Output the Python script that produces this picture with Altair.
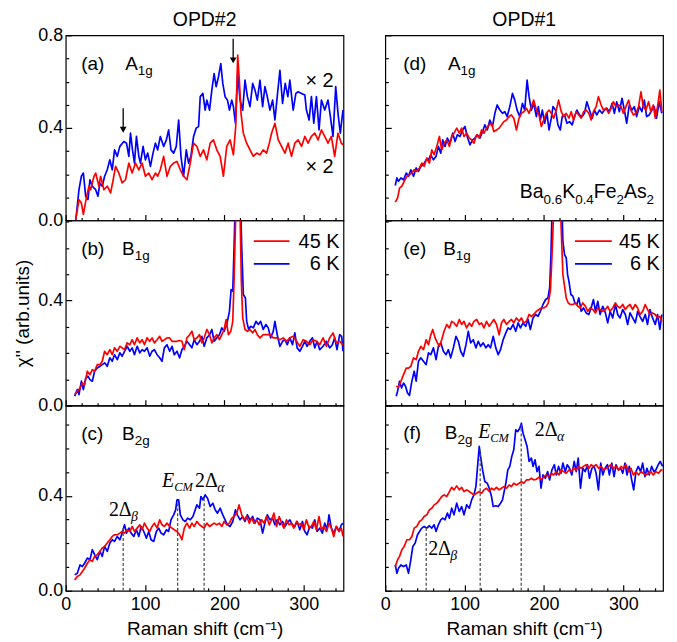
import altair as alt
import pandas as pd

RED = "#ff0000"
BLUE = "#0000ff"
SANS = "Liberation Sans"
SERIF = "Liberation Serif"

# ---------------- data ----------------
# (a) OPD#2, A1g  (values shown x2)
a45_x = [12.6,16.7,19.7,22.2,26.4,29.3,31.4,35.6,37.7,41.8,
         43.9,48.1,52.3,56.5,59.8,62.8,66.9,71.1,75.3,79.5,
         83.7,87.9,92.1,96.2,100.4,104.6,108.8,113.0,115.9,119.2,
         123.4,127.6,131.8,136.0,140.2,144.4,148.5,152.7,156.9,161.1,
         165.3,169.5,173.6,177.8,182.0,186.2,190.4,194.6,198.7,202.9,
         207.1,211.3,214.2,216.7,218.8,220.9,223.8,228.0,232.2,236.4,
         240.6,244.8,248.9,253.1,256.5,259.4,263.6,267.8,272.0,276.2,
         280.3,284.5,288.7,292.9,297.1,301.3,305.4,309.6,313.8,318.0,
         322.2,326.4,330.5,334.7,338.9,343.1,347.3,349.4]
a45_y = [0.004,0.090,0.076,0.026,0.105,0.148,0.133,0.191,0.205,0.148,
         0.191,0.133,0.148,0.119,0.176,0.234,0.205,0.162,0.176,0.248,
         0.205,0.248,0.219,0.248,0.191,0.205,0.176,0.205,0.191,0.219,
         0.277,0.191,0.234,0.248,0.255,0.219,0.191,0.176,0.248,0.334,
         0.320,0.277,0.305,0.262,0.334,0.348,0.305,0.277,0.191,0.320,
         0.348,0.284,0.406,0.714,0.606,0.463,0.377,0.334,0.305,0.277,
         0.291,0.284,0.305,0.291,0.334,0.377,0.420,0.348,0.320,0.291,
         0.334,0.277,0.334,0.348,0.320,0.363,0.334,0.363,0.377,0.348,
         0.391,0.363,0.334,0.363,0.277,0.377,0.334,0.327]
a6_x = [12.6,16.7,19.7,22.2,25.1,28.0,30.5,33.5,37.7,40.6,
        43.1,46.0,49.0,52.3,55.6,58.6,61.5,64.9,68.2,73.2,
        76.6,79.5,81.6,84.1,86.6,89.1,92.1,94.1,97.5,100.4,
        103.3,106.7,110.0,113.0,115.9,119.2,123.4,126.8,129.7,132.6,
        136.0,139.3,142.3,145.2,148.5,151.9,154.8,157.7,161.1,164.4,
        167.4,169.5,172.8,175.7,177.8,181.2,184.1,187.0,189.5,192.5,
        195.4,197.9,200.8,203.8,206.3,209.2,211.3,213.8,216.7,219.7,
        223.0,225.9,228.9,232.2,235.6,238.5,241.4,244.8,248.1,251.0,
        254.0,257.3,260.7,263.6,266.5,269.9,273.2,276.6,279.9,282.4,
        286.6,290.0,292.9,297.1,301.3,303.3,306.7,309.6,312.6,315.9,
        319.2,322.2,326.4,330.5,333.5,336.8,340.2,343.1,346.0,349.4]
a6_y = [0.000,0.133,0.191,0.205,0.105,0.090,0.176,0.148,0.133,0.105,
        0.162,0.148,0.191,0.219,0.262,0.219,0.305,0.277,0.320,0.341,
        0.334,0.277,0.377,0.305,0.248,0.363,0.277,0.248,0.320,0.262,
        0.291,0.234,0.291,0.334,0.305,0.363,0.320,0.348,0.391,0.305,
        0.291,0.320,0.434,0.277,0.191,0.305,0.248,0.277,0.363,0.399,
        0.406,0.535,0.549,0.477,0.520,0.477,0.563,0.635,0.578,0.621,
        0.678,0.592,0.535,0.520,0.477,0.520,0.492,0.420,0.635,0.520,
        0.477,0.606,0.535,0.492,0.592,0.563,0.520,0.606,0.492,0.578,
        0.535,0.477,0.520,0.434,0.535,0.649,0.506,0.592,0.535,0.606,
        0.477,0.549,0.556,0.549,0.542,0.477,0.434,0.535,0.420,0.535,
        0.391,0.520,0.477,0.520,0.449,0.363,0.578,0.463,0.377,0.477]

# (b) OPD#2, B1g
b45_x = [11.3,14.6,18.0,20.9,23.8,27.2,30.5,33.5,36.4,39.7,
         43.1,46.0,49.0,52.3,55.6,58.6,61.5,64.9,68.2,71.1,
         74.1,77.4,80.8,83.7,86.6,90.0,93.3,96.2,99.2,102.5,
         105.9,108.8,111.7,115.1,118.4,121.3,124.3,127.6,131.0,133.9,
         136.8,140.2,143.5,146.4,149.4,152.7,156.1,159.0,161.9,165.3,
         168.6,171.5,174.5,177.8,181.2,184.1,187.0,190.4,193.7,196.7,
         199.6,202.1,205.0,208.0,210.5,212.1,213.8,215.5,217.6,219.7,
         221.3,223.0,225.9,228.9,232.2,235.6,238.5,241.4,244.8,248.9,
         253.1,257.3,261.5,265.7,269.9,274.1,278.2,282.4,286.6,290.8,
         295.0,299.2,303.3,307.5,311.7,315.9,320.1,324.3,328.5,332.6,
         336.8,341.0,345.2,349.4]
b45_y = [0.042,0.055,0.067,0.086,0.080,0.131,0.118,0.137,0.131,0.156,
         0.156,0.169,0.207,0.194,0.213,0.194,0.220,0.207,0.226,0.220,
         0.213,0.239,0.232,0.251,0.232,0.258,0.239,0.251,0.232,0.258,
         0.245,0.258,0.239,0.251,0.264,0.245,0.251,0.258,0.258,0.245,
         0.245,0.245,0.248,0.245,0.213,0.258,0.270,0.283,0.251,0.258,
         0.270,0.239,0.258,0.290,0.270,0.239,0.258,0.270,0.251,0.270,
         0.290,0.328,0.270,0.283,0.321,0.474,0.677,0.850,0.920,0.730,
         0.474,0.334,0.290,0.283,0.290,0.277,0.290,0.270,0.258,0.270,
         0.270,0.270,0.258,0.258,0.251,0.258,0.245,0.258,0.264,0.245,
         0.226,0.251,0.245,0.232,0.251,0.245,0.232,0.258,0.226,0.258,
         0.277,0.239,0.245,0.232]
b6_x = [11.3,14.6,16.7,19.7,22.2,25.1,28.0,30.5,33.5,36.4,
        39.7,43.1,46.0,49.0,52.3,55.6,58.6,61.5,64.9,68.2,
        71.1,74.1,77.4,80.8,83.7,86.6,90.0,93.3,96.2,99.2,
        102.5,105.9,108.8,111.7,115.1,118.4,121.3,124.3,127.6,131.0,
        133.9,136.8,140.2,143.5,146.4,149.4,152.7,156.1,159.0,161.9,
        165.3,168.6,171.5,174.5,177.8,181.2,184.1,187.0,190.4,193.7,
        196.7,199.6,202.9,206.3,208.4,210.5,212.1,213.8,216.3,219.7,
        221.8,223.8,226.4,228.0,230.5,233.1,236.4,239.7,242.7,245.6,
        248.9,252.3,255.2,258.2,261.5,263.6,266.5,269.9,273.2,276.2,
        279.1,282.4,285.8,288.7,291.6,295.0,298.3,301.3,304.2,307.5,
        310.9,313.8,316.7,320.1,324.3,328.5,332.6,336.0,338.9,341.8,
        345.2,347.7,349.4]
b6_y = [0.036,0.061,0.042,0.093,0.061,0.105,0.112,0.099,0.093,0.131,
        0.143,0.150,0.156,0.163,0.150,0.182,0.169,0.194,0.175,0.201,
        0.188,0.207,0.226,0.207,0.220,0.194,0.226,0.201,0.213,0.207,
        0.220,0.188,0.207,0.213,0.194,0.182,0.169,0.220,0.232,0.207,
        0.226,0.194,0.207,0.182,0.213,0.226,0.245,0.232,0.220,0.251,
        0.232,0.245,0.264,0.226,0.258,0.270,0.290,0.245,0.258,0.270,
        0.296,0.283,0.309,0.359,0.442,0.436,0.601,0.790,0.920,0.850,
        0.601,0.423,0.410,0.321,0.290,0.302,0.296,0.321,0.309,0.321,
        0.290,0.309,0.296,0.258,0.283,0.321,0.270,0.226,0.245,0.251,
        0.232,0.258,0.232,0.277,0.220,0.207,0.226,0.245,0.226,0.245,
        0.258,0.220,0.245,0.213,0.226,0.245,0.220,0.232,0.258,0.213,
        0.270,0.264,0.207]

# (c) OPD#2, B2g
c45_x = [11.3,14.6,18.0,20.9,23.8,27.2,30.5,33.5,36.4,39.7,
         43.1,46.0,49.0,52.3,55.6,58.6,61.5,64.9,68.2,71.1,
         74.1,77.4,80.8,83.7,86.6,90.0,93.3,96.2,99.2,102.5,
         105.9,108.8,111.7,115.1,118.4,121.3,124.3,127.6,131.0,133.9,
         136.8,140.2,143.5,146.4,149.4,152.7,156.1,159.0,161.9,165.3,
         168.6,171.5,174.5,177.8,181.2,184.1,187.0,190.4,193.7,196.7,
         199.6,202.9,206.3,209.2,212.1,215.5,218.4,221.8,224.7,228.0,
         231.4,234.3,237.2,240.6,243.9,246.9,249.8,253.1,256.5,259.4,
         262.3,265.7,269.0,272.0,274.9,278.2,281.6,284.5,287.4,290.8,
         294.1,297.1,300.0,303.3,306.7,309.6,312.6,315.9,319.2,322.2,
         325.1,328.5,331.8,334.7,337.7,341.0,344.4,347.3,349.4]
c45_y = [0.046,0.060,0.067,0.081,0.095,0.116,0.131,0.124,0.145,0.152,
         0.166,0.180,0.187,0.201,0.215,0.229,0.236,0.236,0.243,0.250,
         0.243,0.257,0.250,0.271,0.250,0.264,0.278,0.257,0.285,0.264,
         0.250,0.271,0.285,0.264,0.299,0.278,0.271,0.285,0.271,0.264,
         0.257,0.250,0.236,0.215,0.264,0.285,0.264,0.285,0.271,0.292,
         0.278,0.271,0.264,0.285,0.271,0.278,0.285,0.278,0.285,0.271,
         0.292,0.278,0.285,0.306,0.313,0.327,0.362,0.320,0.299,0.313,
         0.285,0.306,0.285,0.299,0.278,0.299,0.285,0.313,0.278,0.299,
         0.327,0.271,0.313,0.285,0.264,0.299,0.278,0.285,0.264,0.292,
         0.278,0.285,0.257,0.299,0.264,0.271,0.292,0.257,0.313,0.257,
         0.271,0.250,0.285,0.264,0.229,0.271,0.250,0.264,0.229]
c6_x = [11.3,14.6,18.0,20.9,23.8,27.2,30.5,33.5,36.4,39.7,
        43.1,46.0,49.0,52.3,55.6,58.6,61.5,64.9,68.2,71.1,
        74.1,76.6,79.5,82.4,85.8,89.1,92.1,95.0,98.3,101.7,
        104.6,107.5,110.9,114.2,117.2,120.1,123.4,126.8,129.7,132.6,
        136.0,138.5,140.2,142.3,144.4,147.7,150.6,153.6,156.9,160.3,
        163.2,165.3,168.6,170.3,172.8,175.7,178.7,182.0,185.4,188.3,
        191.2,194.6,197.9,200.8,203.8,207.1,210.5,213.8,216.3,219.7,
        223.0,225.9,228.9,232.2,235.6,238.5,241.4,244.8,248.1,251.0,
        254.0,257.3,260.7,263.6,266.5,269.9,273.2,276.2,279.1,282.4,
        285.8,288.7,291.6,295.0,298.3,301.3,304.2,307.5,310.9,313.8,
        316.7,320.1,323.4,326.4,329.3,331.8,334.7,337.7,341.0,344.4,
        347.3,349.4]
c6_y = [0.067,0.074,0.109,0.102,0.116,0.138,0.131,0.173,0.152,0.131,
        0.166,0.145,0.187,0.166,0.201,0.215,0.208,0.229,0.215,0.243,
        0.278,0.243,0.264,0.243,0.229,0.257,0.229,0.271,0.250,0.222,
        0.250,0.215,0.208,0.250,0.264,0.243,0.236,0.257,0.250,0.299,
        0.320,0.341,0.383,0.383,0.320,0.299,0.292,0.306,0.299,0.313,
        0.341,0.362,0.348,0.397,0.383,0.404,0.390,0.355,0.369,0.341,
        0.327,0.348,0.320,0.299,0.278,0.271,0.292,0.341,0.320,0.299,
        0.313,0.292,0.320,0.299,0.313,0.285,0.306,0.299,0.243,0.285,
        0.320,0.299,0.306,0.278,0.299,0.278,0.292,0.271,0.285,0.299,
        0.278,0.271,0.292,0.257,0.292,0.250,0.236,0.271,0.264,0.299,
        0.250,0.264,0.243,0.285,0.257,0.320,0.264,0.243,0.271,0.250,
        0.278,0.285]

# (d) OPD#1, A1g
d45_x = [12.6,15.5,18.0,20.9,23.8,27.2,30.5,33.5,36.4,39.7,
         43.1,46.0,49.0,52.3,55.6,58.6,61.5,64.9,68.2,71.1,
         74.1,77.4,80.8,83.7,86.6,90.0,93.3,96.2,99.2,102.5,
         105.9,108.8,111.7,115.1,118.4,121.3,124.3,127.6,131.0,133.9,
         136.8,140.2,143.5,146.4,149.4,152.7,156.1,159.0,161.9,165.3,
         168.6,171.5,174.5,177.8,181.2,184.1,187.0,190.4,193.7,196.7,
         199.6,202.9,206.3,209.2,212.1,215.5,218.4,221.8,224.7,228.0,
         231.4,234.3,237.2,240.6,243.9,246.9,249.8,253.1,256.5,259.4,
         262.3,265.7,268.6,272.0,274.9,278.2,281.6,284.5,287.4,290.8,
         294.1,297.1,300.0,303.3,306.7,309.6,312.6,315.9,319.2,322.2,
         325.1,328.5,331.8,334.7,337.7,340.2,343.1,346.0,348.5]
d45_y = [0.079,0.097,0.140,0.148,0.169,0.191,0.198,0.205,0.219,0.212,
         0.227,0.248,0.234,0.270,0.248,0.305,0.284,0.320,0.363,0.305,
         0.334,0.348,0.320,0.363,0.377,0.399,0.377,0.399,0.363,0.377,
         0.356,0.348,0.334,0.370,0.356,0.391,0.377,0.399,0.413,0.420,
         0.384,0.391,0.399,0.413,0.427,0.434,0.449,0.456,0.442,0.391,
         0.442,0.463,0.470,0.485,0.463,0.492,0.520,0.477,0.456,0.406,
         0.434,0.463,0.477,0.463,0.442,0.477,0.520,0.470,0.449,0.463,
         0.442,0.470,0.434,0.470,0.456,0.442,0.470,0.477,0.463,0.434,
         0.470,0.492,0.535,0.499,0.477,0.485,0.463,0.485,0.513,0.492,
         0.499,0.492,0.463,0.492,0.520,0.477,0.456,0.463,0.492,0.556,
         0.492,0.477,0.513,0.470,0.499,0.442,0.492,0.563,0.470]
d6_x = [12.6,14.6,16.7,19.7,23.0,26.4,29.3,32.2,35.6,38.9,
        41.8,44.8,48.1,51.5,54.4,57.3,60.7,64.0,66.9,69.9,
        72.4,75.3,78.2,81.6,84.9,87.9,90.8,94.1,97.5,100.4,
        103.3,106.7,110.0,113.0,115.9,119.2,122.6,125.5,128.5,131.8,
        135.1,138.1,141.0,144.4,147.7,150.6,153.6,156.9,160.3,163.2,
        166.1,169.5,172.8,175.7,178.7,181.2,184.1,187.0,190.4,192.9,
        195.4,197.9,200.8,203.8,206.3,209.2,211.3,214.6,217.6,220.5,
        223.0,225.9,228.9,232.2,235.6,238.5,241.4,244.8,248.1,251.0,
        254.0,257.3,260.7,263.6,266.5,269.9,273.2,276.2,279.1,282.4,
        285.8,288.7,291.6,295.0,298.3,301.3,304.2,307.5,310.9,313.8,
        316.7,320.1,323.4,326.4,329.3,332.6,336.0,338.9,341.8,345.2,
        348.5]
d6_y = [0.151,0.184,0.169,0.184,0.176,0.205,0.191,0.219,0.191,0.227,
        0.212,0.234,0.241,0.262,0.262,0.284,0.262,0.277,0.320,0.291,
        0.348,0.320,0.356,0.334,0.377,0.341,0.370,0.363,0.391,0.406,
        0.363,0.327,0.348,0.356,0.370,0.356,0.384,0.413,0.391,0.434,
        0.406,0.463,0.499,0.477,0.463,0.470,0.449,0.492,0.549,0.520,
        0.477,0.449,0.506,0.477,0.606,0.535,0.477,0.506,0.449,0.492,
        0.434,0.477,0.420,0.463,0.391,0.442,0.492,0.477,0.413,0.391,
        0.449,0.456,0.420,0.427,0.413,0.449,0.477,0.456,0.449,0.463,
        0.513,0.477,0.442,0.477,0.456,0.477,0.463,0.477,0.485,0.470,
        0.506,0.463,0.513,0.470,0.528,0.477,0.420,0.499,0.477,0.492,
        0.449,0.492,0.470,0.520,0.449,0.456,0.477,0.492,0.442,0.513,
        0.463]

# (e) OPD#1, B1g
e45_x = [13.8,16.7,19.7,23.0,26.4,29.3,32.2,35.6,38.9,41.8,
         44.8,48.1,51.5,54.4,57.3,59.8,62.8,65.7,68.2,71.1,
         74.1,77.4,80.8,83.7,86.6,90.0,93.3,96.2,99.2,102.5,
         105.9,108.8,111.7,115.1,118.4,121.3,124.3,127.6,131.0,133.9,
         136.8,140.2,143.5,146.4,149.4,152.7,156.1,159.0,161.9,165.3,
         168.6,171.5,174.5,177.8,181.2,184.1,187.0,190.4,193.7,196.7,
         199.6,202.9,205.4,208.0,209.6,211.3,213.0,216.3,219.7,221.8,
         223.8,225.9,228.0,230.5,233.1,236.4,239.7,242.7,245.6,248.9,
         252.3,255.2,258.2,261.5,264.9,267.8,270.7,274.1,277.4,280.3,
         283.3,286.6,290.0,292.9,295.8,299.2,302.5,305.4,308.4,311.7,
         315.1,318.0,320.9,324.3,327.6,330.5,333.5,336.8,340.2,343.1,
         346.0,348.5]
e45_y = [0.074,0.070,0.093,0.118,0.143,0.143,0.150,0.182,0.175,0.207,
         0.226,0.213,0.251,0.232,0.270,0.290,0.258,0.239,0.226,0.251,
         0.283,0.309,0.296,0.321,0.315,0.302,0.328,0.309,0.321,0.296,
         0.315,0.302,0.321,0.328,0.309,0.315,0.296,0.321,0.302,0.315,
         0.328,0.309,0.270,0.315,0.328,0.309,0.321,0.328,0.315,0.334,
         0.321,0.334,0.315,0.321,0.347,0.340,0.347,0.359,0.366,0.372,
         0.372,0.378,0.391,0.436,0.537,0.664,0.850,0.980,0.850,0.664,
         0.499,0.455,0.410,0.391,0.385,0.385,0.391,0.378,0.372,0.391,
         0.378,0.359,0.372,0.366,0.353,0.372,0.366,0.359,0.366,0.378,
         0.359,0.372,0.391,0.378,0.372,0.385,0.366,0.378,0.385,0.366,
         0.385,0.372,0.347,0.359,0.385,0.366,0.347,0.353,0.347,0.334,
         0.340,0.321]
e6_x = [13.8,15.5,18.0,20.5,23.0,25.5,28.0,30.5,33.5,36.4,
        38.9,41.8,44.8,48.1,51.5,54.4,57.3,60.7,64.0,66.9,
        69.9,73.2,76.6,79.5,82.4,85.8,89.1,92.1,95.0,98.3,
        101.7,104.6,107.5,110.9,114.2,117.2,120.1,123.4,126.8,129.7,
        132.6,136.0,139.3,142.3,145.2,148.5,151.9,154.8,157.7,161.1,
        164.4,167.4,170.3,173.6,177.0,179.9,182.8,186.2,189.5,192.5,
        195.4,198.7,202.1,205.0,207.1,208.8,210.5,213.8,219.7,222.2,
        223.8,225.9,228.0,229.7,231.4,233.9,236.4,238.9,241.4,243.9,
        246.9,249.8,253.1,256.5,259.4,262.3,264.9,267.8,270.7,274.1,
        277.4,280.3,283.3,286.6,290.0,292.9,295.8,299.2,302.5,305.4,
        308.4,311.7,315.1,318.0,320.9,324.3,327.6,330.5,333.5,336.8,
        340.2,343.1,346.0,348.5]
e6_y = [0.036,0.055,0.093,0.067,0.086,0.074,0.048,0.039,0.093,0.131,
        0.093,0.169,0.182,0.169,0.156,0.201,0.194,0.220,0.175,0.226,
        0.239,0.207,0.194,0.213,0.182,0.220,0.264,0.245,0.207,0.188,
        0.232,0.283,0.239,0.251,0.220,0.245,0.226,0.239,0.220,0.232,
        0.220,0.264,0.220,0.194,0.213,0.251,0.277,0.296,0.290,0.309,
        0.283,0.315,0.296,0.315,0.302,0.328,0.290,0.334,0.347,0.340,
        0.359,0.385,0.404,0.410,0.448,0.575,0.790,0.980,0.980,0.790,
        0.626,0.575,0.563,0.499,0.474,0.423,0.417,0.391,0.385,0.410,
        0.359,0.372,0.353,0.347,0.372,0.404,0.359,0.397,0.347,0.378,
        0.353,0.315,0.359,0.334,0.385,0.347,0.334,0.366,0.347,0.309,
        0.353,0.334,0.315,0.359,0.340,0.321,0.347,0.309,0.366,0.334,
        0.309,0.347,0.290,0.347]

# (f) OPD#1, B2g
f45_x = [12.6,15.5,18.0,20.9,23.8,27.2,30.5,33.5,36.4,39.7,
         43.1,46.0,49.0,52.3,55.6,58.6,61.5,64.9,68.2,71.1,
         74.1,77.4,80.8,83.7,86.6,90.0,93.3,96.2,99.2,102.5,
         105.9,108.8,111.7,115.1,118.4,121.3,124.3,127.6,131.0,133.9,
         136.8,140.2,143.5,146.4,149.4,152.7,156.1,159.0,161.9,165.3,
         168.6,171.5,174.5,177.8,181.2,184.1,187.0,190.4,193.7,196.7,
         199.6,202.9,206.3,209.2,212.1,215.5,218.8,221.8,224.7,228.0,
         231.4,234.3,237.2,240.6,243.9,246.9,249.8,253.1,256.5,259.4,
         262.3,265.7,269.0,272.0,274.9,278.2,281.6,284.5,287.4,290.8,
         294.1,297.1,300.0,303.3,306.7,309.6,312.6,315.9,319.2,322.2,
         325.1,328.5,331.8,334.7,337.7,341.0,344.4,347.3,349.4]
f45_y = [0.102,0.131,0.145,0.173,0.187,0.215,0.215,0.229,0.264,0.271,
         0.292,0.299,0.313,0.320,0.341,0.348,0.362,0.369,0.383,0.397,
         0.404,0.397,0.418,0.436,0.425,0.442,0.425,0.436,0.418,0.425,
         0.418,0.411,0.404,0.411,0.418,0.411,0.425,0.432,0.418,0.432,
         0.425,0.436,0.425,0.432,0.439,0.432,0.446,0.439,0.453,0.446,
         0.453,0.460,0.453,0.467,0.467,0.474,0.467,0.470,0.479,0.467,
         0.481,0.488,0.481,0.495,0.488,0.502,0.488,0.509,0.502,0.495,
         0.509,0.502,0.516,0.509,0.524,0.516,0.524,0.531,0.516,0.531,
         0.524,0.531,0.516,0.524,0.509,0.516,0.524,0.531,0.516,0.524,
         0.509,0.524,0.516,0.531,0.502,0.516,0.488,0.502,0.488,0.502,
         0.495,0.488,0.495,0.502,0.488,0.502,0.495,0.509,0.507]
f6_x = [12.6,14.6,16.7,19.7,23.0,26.4,29.3,32.2,34.7,37.7,
        40.6,43.1,46.0,49.0,52.3,55.6,58.6,61.5,64.0,66.9,
        69.9,72.4,75.3,78.2,80.8,83.7,86.6,90.0,93.3,96.2,
        99.2,102.5,105.9,108.8,111.7,114.2,116.3,118.4,120.1,122.6,
        125.5,128.5,131.0,133.9,136.0,139.3,142.3,145.2,147.7,149.4,
        151.9,154.4,156.9,159.4,161.9,164.4,166.9,169.5,171.5,173.6,
        176.2,178.7,181.2,184.1,186.2,188.7,191.2,193.7,196.2,198.7,
        201.7,204.6,207.1,210.0,213.0,215.5,218.4,221.3,223.8,226.8,
        229.3,232.2,235.1,238.1,240.6,243.1,246.0,248.9,251.9,254.8,
        257.3,260.3,263.2,265.7,268.6,271.5,274.1,277.0,279.9,282.4,
        285.4,288.3,290.8,293.7,296.7,299.2,302.1,304.6,307.5,310.5,
        313.0,315.9,318.8,321.8,324.3,327.2,329.7,332.6,335.6,338.5,
        341.0,343.9,346.4,349.4]
f6_y = [0.109,0.074,0.095,0.109,0.102,0.109,0.074,0.131,0.187,0.201,
        0.236,0.250,0.264,0.271,0.264,0.274,0.264,0.278,0.250,0.278,
        0.299,0.306,0.299,0.327,0.306,0.348,0.320,0.369,0.334,0.355,
        0.320,0.362,0.348,0.383,0.404,0.439,0.524,0.608,0.566,0.509,
        0.460,0.453,0.432,0.397,0.355,0.358,0.355,0.369,0.383,0.411,
        0.453,0.509,0.524,0.566,0.594,0.678,0.671,0.685,0.706,0.664,
        0.636,0.608,0.545,0.559,0.524,0.552,0.502,0.524,0.432,0.488,
        0.474,0.502,0.467,0.509,0.531,0.488,0.524,0.495,0.538,0.502,
        0.531,0.516,0.488,0.545,0.502,0.559,0.432,0.516,0.502,0.531,
        0.474,0.516,0.524,0.495,0.425,0.538,0.488,0.516,0.531,0.488,
        0.538,0.481,0.531,0.509,0.516,0.495,0.538,0.488,0.524,0.467,
        0.425,0.502,0.524,0.502,0.538,0.481,0.516,0.488,0.524,0.502,
        0.509,0.531,0.545,0.524]

# tick values
X_MAJOR = [0, 100, 200, 300]
X_MINOR = [20, 40, 60, 80, 120, 140, 160, 180, 220, 240, 260, 280, 320, 340]

# ---------------- layout constants ----------------
W, H = 279, 186
SANS_W = {"(": .333, ")": .333, "a": .556, "b": .556, "c": .5, "d": .556, "e": .556,
          "f": .278, "g": .556, "A": .667, "B": .667, "K": .667, "F": .611, "s": .5,
          ".": .278, " ": .278}
SERIF_W = {"2": .5, "Δ": .612, "E": .611, "C": .667, "M": .833, "α": .53, "β": .5}


def tw(s, font, size):
    table = SANS_W if font == SANS else SERIF_W
    return sum(table.get(ch, 0.556) for ch in s) * size


def series_df(xs, ys, name):
    if len(xs) != len(ys):
        raise ValueError(f"length mismatch in {name}: {len(xs)} vs {len(ys)}")
    return pd.DataFrame({"x": xs, "y": ys})


def rich(x, y, parts, xsc, ysc):
    layers = []
    dx = 0.0
    for text, font, size, style, dy in parts:
        df = pd.DataFrame({"x": [x], "y": [y], "t": [text]})
        layers.append(
            alt.Chart(df).mark_text(align="left", baseline="alphabetic", font=font, fontSize=size,
                                    fontStyle=style, dx=dx, dy=dy, color="black")
            .encode(x=alt.X("x:Q", scale=xsc, axis=None), y=alt.Y("y:Q", scale=ysc, axis=None), text="t:N")
        )
        dx += tw(text, font, size)
    return layers


def panel(red, blue, ydom, ymajor, yminor, xlabels, ylabels, ytitle=None, xtitle=None,
          letter="", sym="", sub="", lx=20, sx=75, ly=0.65, extra=None, title=None):
    xsc = alt.Scale(domain=[0, 350], nice=False, zero=False)
    ysc = alt.Scale(domain=ydom, nice=False, zero=False)
    ax_x_major = alt.Axis(orient="bottom", values=X_MAJOR, tickSize=6, offset=-6, domain=False, grid=False,
                          labels=xlabels, labelFlush=False, labelPadding=5, labelOverlap=False,
                          title=xtitle, titlePadding=6)
    ax_y_major = alt.Axis(orient="left", values=ymajor, tickSize=6, offset=-6, domain=False, grid=False,
                          labels=ylabels, format=".1f", labelPadding=3, labelOverlap=False,
                          title=ytitle, titlePadding=5)
    ax_x_minor = alt.Axis(orient="bottom", values=X_MINOR, tickSize=3, offset=-3, domain=False, grid=False,
                          labels=False, title=None)
    ax_y_minor = alt.Axis(orient="left", values=yminor, tickSize=3, offset=-3, domain=False, grid=False,
                          labels=False, title=None)
    blue_l = alt.Chart(blue).mark_line(color=BLUE, strokeWidth=1.7, clip=True, strokeJoin="round").encode(
        x=alt.X("x:Q", scale=xsc, axis=ax_x_minor), y=alt.Y("y:Q", scale=ysc, axis=ax_y_minor))
    red_l = alt.Chart(red).mark_line(color=RED, strokeWidth=1.7, clip=True, strokeJoin="round").encode(
        x=alt.X("x:Q", scale=xsc, axis=ax_x_major), y=alt.Y("y:Q", scale=ysc, axis=ax_y_major))
    layers = [blue_l, red_l]
    layers.append(
        alt.Chart(pd.DataFrame({"x": [lx], "y": [ly], "t": [letter]}))
        .mark_text(align="left", baseline="alphabetic", font=SANS, fontSize=19, color="black")
        .encode(x=alt.X("x:Q", scale=xsc, axis=None), y=alt.Y("y:Q", scale=ysc, axis=None), text="t:N"))
    layers += rich(sx, ly, [(sym, SANS, 19, "normal", 0), (sub, SANS, 13.5, "normal", 5)], xsc, ysc)
    if title:
        # column heading, placed 9 px above the top frame of the panel
        ty = ydom[1] + 9.0 * (ydom[1] - ydom[0]) / H
        layers.append(
            alt.Chart(pd.DataFrame({"x": [175.0], "y": [ty], "t": [title]}))
            .mark_text(align="center", baseline="alphabetic", font=SANS, fontSize=19.5, color="black")
            .encode(x=alt.X("x:Q", scale=xsc, axis=None), y=alt.Y("y:Q", scale=ysc, axis=None), text="t:N"))
    if extra:
        layers += extra(xsc, ysc)
    return alt.layer(*layers).resolve_axis(x="independent", y="independent").properties(width=W, height=H)


def arrows_a(xsc, ysc):
    arr = pd.DataFrame({"x": [72.4, 211.0], "y": [0.485, 0.785], "y2": [0.395, 0.695]})
    tips = pd.DataFrame({"x": [72.4, 211.0], "y": [0.392, 0.692]})
    rule = alt.Chart(arr).mark_rule(color="black", strokeWidth=1.3).encode(
        x=alt.X("x:Q", scale=xsc, axis=None), y=alt.Y("y:Q", scale=ysc, axis=None), y2="y2:Q")
    head = alt.Chart(tips).mark_point(shape="triangle-down", filled=True, size=45, color="black", opacity=1).encode(
        x=alt.X("x:Q", scale=xsc, axis=None), y=alt.Y("y:Q", scale=ysc, axis=None))
    times = alt.Chart(pd.DataFrame({"x": [302, 302], "y": [0.578, 0.207], "t": ["\u00d7 2", "\u00d7 2"]})).mark_text(
        align="left", baseline="alphabetic", font=SANS, fontSize=20, color="black").encode(
        x=alt.X("x:Q", scale=xsc, axis=None), y=alt.Y("y:Q", scale=ysc, axis=None), text="t:N")
    return [rule, head, times]


def legend_layers(x0, x1, xr):
    def f(xsc, ysc):
        lines = pd.DataFrame({"x": [x0, x0], "x2": [x1, x1], "y": [0.626, 0.540], "c": ["45 K", "6 K"]})
        rl = alt.Chart(lines).mark_rule(strokeWidth=1.7).encode(
            x=alt.X("x:Q", scale=xsc, axis=None), x2="x2:Q", y=alt.Y("y:Q", scale=ysc, axis=None),
            color=alt.Color("c:N", scale=alt.Scale(domain=["45 K", "6 K"], range=[RED, BLUE]), legend=None))
        txt = alt.Chart(pd.DataFrame({"x": [xr, xr], "y": [0.600, 0.518], "t": ["45 K", "6 K"]})).mark_text(
            align="right", baseline="alphabetic", font=SANS, fontSize=20, color="black").encode(
            x=alt.X("x:Q", scale=xsc, axis=None), y=alt.Y("y:Q", scale=ysc, axis=None), text="t:N")
        return [rl, txt]
    return f


def gap_marks(dash_x, dash_top, beta_xy, ecm_xy, alpha_xy):
    def f(xsc, ysc):
        d = pd.DataFrame({"x": dash_x, "y": [0.0] * len(dash_x), "y2": dash_top})
        dash = alt.Chart(d).mark_rule(color="#555555", strokeWidth=1.3, strokeDash=[3, 2]).encode(
            x=alt.X("x:Q", scale=xsc, axis=None), y=alt.Y("y:Q", scale=ysc, axis=None), y2="y2:Q")
        out = [dash]
        out += rich(beta_xy[0], beta_xy[1], [("2Δ", SERIF, 20, "normal", 0), ("β", SERIF, 14, "italic", 5)], xsc, ysc)
        out += rich(ecm_xy[0], ecm_xy[1], [("E", SERIF, 20, "italic", 0), ("CM", SERIF, 12.5, "italic", 4)], xsc, ysc)
        out += rich(alpha_xy[0], alpha_xy[1], [("2Δ", SERIF, 20, "normal", 0), ("α", SERIF, 14, "italic", 5)], xsc, ysc)
        return out
    return f


def formula(xsc, ysc):
    parts = [("Ba", SANS, 19.5, "normal", 0), ("0.6", SANS, 13.5, "normal", 6), ("K", SANS, 19.5, "normal", 0),
             ("0.4", SANS, 13.5, "normal", 6), ("Fe", SANS, 19.5, "normal", 0), ("2", SANS, 13.5, "normal", 6),
             ("As", SANS, 19.5, "normal", 0), ("2", SANS, 13.5, "normal", 6)]
    return rich(169.5, 0.098, parts, xsc, ysc)


pa = panel(series_df(a45_x, a45_y, "a45"), series_df(a6_x, a6_y, "a6"), [0, 0.8], [0, 0.4, 0.8],
           [0.1, 0.2, 0.3, 0.5, 0.6, 0.7], False, True, letter="(a)", sym="A", sub="1g",
           lx=19.5, sx=75, ly=0.652, extra=arrows_a, title="OPD#2")
pb = panel(series_df(b45_x, b45_y, "b45"), series_df(b6_x, b6_y, "b6"), [0, 0.705], [0, 0.4],
           [0.1, 0.2, 0.3, 0.5, 0.6, 0.7], False, True, ytitle="\u03c7'' (arb.units)",
           letter="(b)", sym="B", sub="1g", lx=19.5, sx=71, ly=0.575,
           extra=legend_layers(237, 282, 345))
pc = panel(series_df(c45_x, c45_y, "c45"), series_df(c6_x, c6_y, "c6"), [0, 0.78], [0, 0.4],
           [0.1, 0.2, 0.3, 0.5, 0.6, 0.7], True, True, xtitle="Raman shift (cm\u207b\u00b9)",
           letter="(c)", sym="B", sub="2g", lx=19.5, sx=71, ly=0.636,
           extra=gap_marks([72.4, 141.0, 174.4], [0.264, 0.37, 0.39], (54.4, 0.313), (121.3, 0.437), (163.0, 0.437)))
pd_ = panel(series_df(d45_x, d45_y, "d45"), series_df(d6_x, d6_y, "d6"), [0, 0.8], [0, 0.4, 0.8],
            [0.1, 0.2, 0.3, 0.5, 0.6, 0.7], False, False, letter="(d)", sym="A", sub="1g",
            lx=22.5, sx=79, ly=0.652, extra=formula, title="OPD#1")
pe = panel(series_df(e45_x, e45_y, "e45"), series_df(e6_x, e6_y, "e6"), [0, 0.705], [0, 0.4],
           [0.1, 0.2, 0.3, 0.5, 0.6, 0.7], False, False, letter="(e)", sym="B", sub="1g",
           lx=22.5, sx=73, ly=0.575, extra=legend_layers(239, 285.5, 346))
pf = panel(series_df(f45_x, f45_y, "f45"), series_df(f6_x, f6_y, "f6"), [0, 0.78], [0, 0.4],
           [0.1, 0.2, 0.3, 0.5, 0.6, 0.7], True, False, xtitle="Raman shift (cm\u207b\u00b9)",
           letter="(f)", sym="B", sub="2g", lx=22.5, sx=75, ly=0.639,
           extra=gap_marks([51.6, 119.6, 171.3], [0.271, 0.594, 0.70], (54.0, 0.152), (117.0, 0.643), (188.5, 0.654)))

chart = (
    alt.concat(pa, pd_, pb, pe, pc, pf, columns=2, spacing={"row": 0, "column": 42}, bounds="flush")
    .configure_view(stroke="black", strokeWidth=1.2)
    .configure_axis(labelFont=SANS, labelFontSize=18, labelColor="black", tickColor="black", tickWidth=1.2,
                    titleFont=SANS, titleFontSize=19, titleFontWeight="normal", titleColor="black")
    .properties(padding={"left": 5, "top": 0, "right": 5, "bottom": 0}, background="white")
)

chart.save("out.html", embed_options={"renderer": "svg", "actions": False})
